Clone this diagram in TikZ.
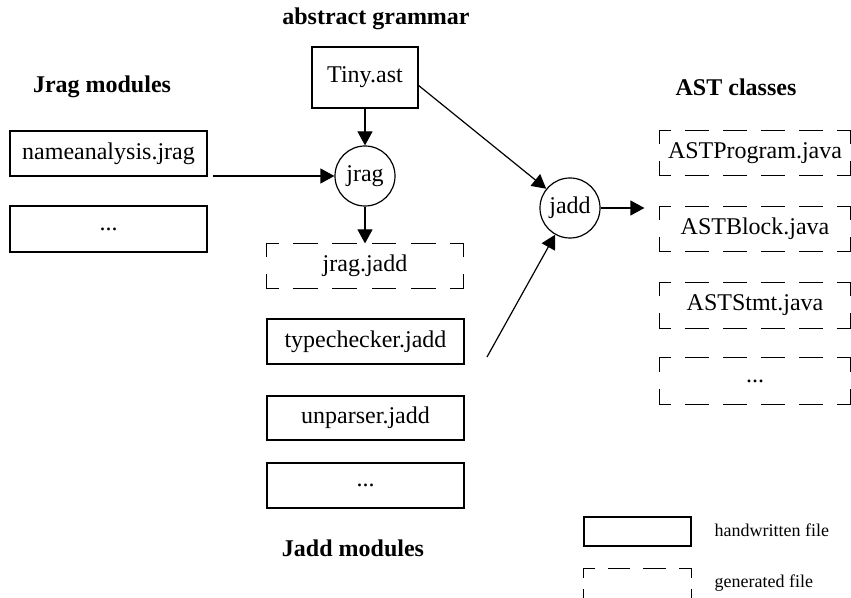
\documentclass[tikz,border=0pt]{standalone}
\usepackage{fontspec}
\setmainfont{Liberation Serif}
\usetikzlibrary{arrows.meta,calc}

% one dashed side of a generated-file box, with half dashes at both corners
\newcommand\gside[3]{%
  \pgfmathsetmacro\gsn{max(1,round(#1/38))}%
  \pgfmathsetmacro\gsd{0.6*#1/\gsn*0.5}%
  \pgfmathsetmacro\gsg{0.4*#1/\gsn*0.5}%
  \pgfmathsetmacro\gsh{\gsd/2}%
  \draw[genline, dash pattern=on \gsd pt off \gsg pt, dash phase=\gsh pt] (#2) -- (#3);}

% generated file: name, centre, width, height, text
\newcommand\genfile[5]{%
  \node[filebox, minimum width=#3*0.5pt, minimum height=#4*0.5pt] (#1) at (#2) {#5};
  \gside{#3}{#1.north west}{#1.north east}
  \gside{#3}{#1.south west}{#1.south east}
  \gside{#4}{#1.north west}{#1.south west}
  \gside{#4}{#1.north east}{#1.south east}}

\begin{document}
\begin{tikzpicture}[x=0.5pt, y=-0.5pt,
  line width=0.6pt,
  txt/.style={font=\fontsize{12}{14}\selectfont},
  heading/.style={font=\fontsize{12}{14}\selectfont\bfseries},
  legendtxt/.style={font=\fontsize{9}{11}\selectfont, anchor=west, inner sep=0pt},
  filebox/.style={txt, inner sep=0pt, rectangle},
  handfile/.style={filebox, draw},
  genline/.style={line cap=rect},
  tool/.style={txt, draw, circle, minimum size=30pt, inner sep=0pt},
  arr/.style={-{Triangle[length=7pt,width=7.5pt]}}]

\useasboundingbox (0,0) rectangle (851,598);
\clip (0,0) rectangle (851,598);

% headings
\node[heading] (habs) at (376,19) {abstract grammar};
\node[heading] (hjrag) at (102,87) {Jrag modules};
\node[heading] (hast) at (736,87) {AST classes};
\node[heading] (hjadd) at (353,548) {Jadd modules};

% abstract grammar
\node[handfile, minimum width=53pt, minimum height=30.5pt] (tiny) at (365,77.5) {Tiny.ast};

% Jrag modules
\node[handfile, minimum width=98.5pt, minimum height=22.5pt] (namean) at (108.5,153.5) {nameanalysis.jrag};
\node[handfile, minimum width=98.5pt, minimum height=23pt] (jragdots) at (108.5,229) {...};

% tools
\node[tool] (jrag) at (365,176) {jrag};
\node[tool] (jadd) at (570,208) {jadd};

% Jadd modules
\genfile{jragjadd}{365,266}{196}{44}{jrag.jadd}
\node[handfile, minimum width=98.5pt, minimum height=22.5pt] (typecheck) at (365.5,341.5) {typechecker.jadd};
\node[handfile, minimum width=98.5pt, minimum height=22pt] (unparser) at (365.5,418) {unparser.jadd};
\node[handfile, minimum width=98.5pt, minimum height=22.5pt] (jadddots) at (365.5,485.5) {...};

% AST classes
\genfile{astprog}{755,153}{190}{44}{ASTProgram.java}
\genfile{astblock}{755,229}{190}{44}{ASTBlock.java}
\genfile{aststmt}{755,305.5}{190}{45}{ASTStmt.java}
\genfile{astdots}{755,381}{190}{46}{...}

% legend
\node[handfile, minimum width=53.5pt, minimum height=14.5pt] (lhand) at (637.5,531.5) {};
\genfile{lgen}{637.5,584}{107}{30}{}
\node[legendtxt] (lhandtxt) at (714,530) {handwritten file};
\node[legendtxt] (lgentxt) at (714,583) {generated file};

% connectors
\coordinate (naout) at (213,176);
\coordinate (tinyout) at (418,85);
\coordinate (tcout) at (487,357);
\draw[arr] (tiny.south) -- (jrag.north);
\draw[arr] (naout) -- (jrag.west);
\draw[arr] (jrag.south) -- (jragjadd.north);
\draw[arr] (tinyout) -- (jadd);
\draw[arr] (tcout) -- (jadd);
\draw[arr, shorten >=7.5pt] (jadd.east) -- (jadd.east -| astblock.west);
\end{tikzpicture}
\end{document}
